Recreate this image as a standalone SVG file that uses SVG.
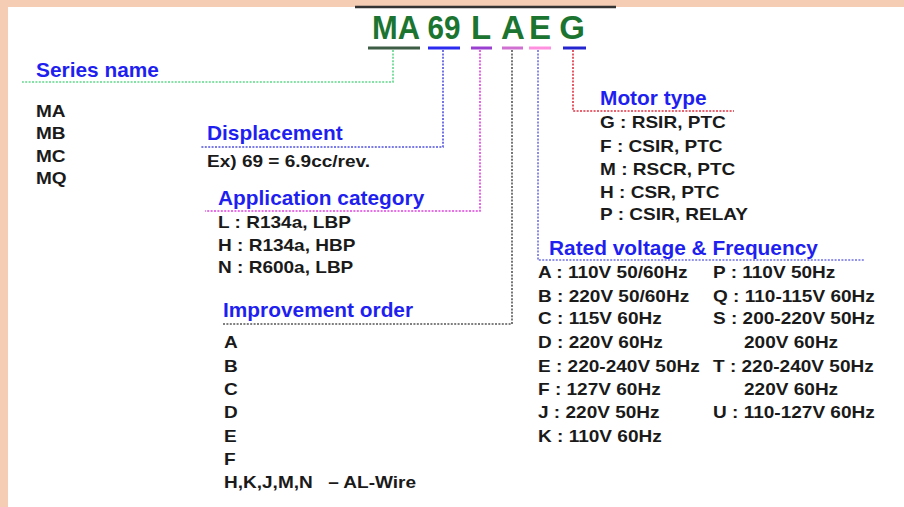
<svg xmlns="http://www.w3.org/2000/svg" width="904" height="507" viewBox="0 0 904 507">
<style>
text{font-family:"Liberation Sans",Arial,sans-serif;font-weight:bold}
.h{font-size:19.5px;fill:#1f1ff0}
.b{font-size:17px;fill:#1a1a1a}
.t{font-size:33px;fill:#1b7430;text-anchor:middle}
.c{fill:none;stroke-width:1.6;stroke-dasharray:2 1.4}
.u{stroke-width:3}
</style>
<rect x="0" y="0" width="904" height="507" fill="#f5cdb5"/>
<rect x="8" y="7" width="896" height="500" fill="#ffffff"/>
<line x1="355" y1="7" x2="616" y2="7" stroke="#333" stroke-width="2.5"/>

<g id="title">
<text class="t" x="396" y="39" textLength="48" lengthAdjust="spacingAndGlyphs">MA</text>
<text class="t" x="444" y="39" textLength="33" lengthAdjust="spacingAndGlyphs">69</text>
<text class="t" x="481" y="39">L</text>
<text class="t" x="513" y="39">A</text>
<text class="t" x="540" y="39">E</text>
<text class="t" x="572" y="39">G</text>
<line class="u" x1="368" y1="48" x2="420" y2="48" stroke="#3d5e45"/>
<line class="u" x1="428" y1="48" x2="460" y2="48" stroke="#2a2af0"/>
<line class="u" x1="471" y1="48" x2="492" y2="48" stroke="#9a40d0"/>
<line class="u" x1="502" y1="48" x2="523" y2="48" stroke="#d070d0"/>
<line class="u" x1="529" y1="48" x2="551" y2="48" stroke="#ff90e0"/>
<line class="u" x1="563" y1="48" x2="586" y2="48" stroke="#2525d0"/>
</g>

<g id="connectors">
<path class="c" d="M393 50V82H22" stroke="#5fd88a"/>
<path class="c" d="M443 50V147H200" stroke="#5050e0"/>
<path class="c" d="M480 50V211H205" stroke="#e040e0"/>
<path class="c" d="M512 50V324H222" stroke="#555"/>
<path class="c" d="M538 50V260H865" stroke="#7070e0"/>
<path class="c" d="M573 50V111H734" stroke="#e03040"/>
</g>

<g id="series">
<g transform="translate(36 0) scale(1.07 1)"><text class="h" x="0" y="77">Series name</text></g>
<g transform="translate(36 0) scale(1.12 1)">
<text class="b" x="0" y="117">MA</text>
<text class="b" x="0" y="139.5">MB</text>
<text class="b" x="0" y="162">MC</text>
<text class="b" x="0" y="184.5">MQ</text>
</g>
</g>

<g id="displacement">
<g transform="translate(207 0) scale(1.07 1)"><text class="h" x="0" y="140">Displacement</text></g>
<g transform="translate(207 0) scale(1.12 1)"><text class="b" x="0" y="167">Ex) 69 = 6.9cc/rev.</text></g>
</g>

<g id="application">
<g transform="translate(218 0) scale(1.07 1)"><text class="h" x="0" y="205">Application category</text></g>
<g transform="translate(218 0) scale(1.12 1)">
<text class="b" x="0" y="228">L : R134a, LBP</text>
<text class="b" x="0" y="251">H : R134a, HBP</text>
<text class="b" x="0" y="273">N : R600a, LBP</text>
</g>
</g>

<g id="improvement">
<g transform="translate(223 0) scale(1.07 1)"><text class="h" x="0" y="317">Improvement order</text></g>
<g transform="translate(224 0) scale(1.12 1)">
<text class="b" x="0" y="348">A</text>
<text class="b" x="0" y="372">B</text>
<text class="b" x="0" y="395">C</text>
<text class="b" x="0" y="418">D</text>
<text class="b" x="0" y="442">E</text>
<text class="b" x="0" y="465">F</text>
<text class="b" x="0" y="488">H,K,J,M,N<tspan x="93">– AL-Wire</tspan></text>
</g>
</g>

<g id="motor">
<g transform="translate(600 0) scale(1.07 1)"><text class="h" x="0" y="105">Motor type</text></g>
<g transform="translate(600 0) scale(1.12 1)">
<text class="b" x="0" y="128">G : RSIR, PTC</text>
<text class="b" x="0" y="152">F : CSIR, PTC</text>
<text class="b" x="0" y="175">M : RSCR, PTC</text>
<text class="b" x="0" y="198">H : CSR, PTC</text>
<text class="b" x="0" y="220">P : CSIR, RELAY</text>
</g>
</g>

<g id="voltage">
<g transform="translate(549 0) scale(1.07 1)"><text class="h" x="0" y="255">Rated voltage &amp; Frequency</text></g>
<g transform="translate(538 0) scale(1.12 1)">
<text class="b" x="0" y="278">A : 110V 50/60Hz</text>
<text class="b" x="0" y="302">B : 220V 50/60Hz</text>
<text class="b" x="0" y="324">C : 115V 60Hz</text>
<text class="b" x="0" y="348">D : 220V 60Hz</text>
<text class="b" x="0" y="372">E : 220-240V 50Hz</text>
<text class="b" x="0" y="395">F : 127V 60Hz</text>
<text class="b" x="0" y="418">J : 220V 50Hz</text>
<text class="b" x="0" y="442">K : 110V 60Hz</text>
</g>
<g transform="translate(713 0) scale(1.12 1)">
<text class="b" x="0" y="278">P : 110V 50Hz</text>
<text class="b" x="0" y="302">Q : 110-115V 60Hz</text>
<text class="b" x="0" y="324">S : 200-220V 50Hz</text>
<text class="b" x="27.7" y="348">200V 60Hz</text>
<text class="b" x="0" y="372">T : 220-240V 50Hz</text>
<text class="b" x="27.7" y="395">220V 60Hz</text>
<text class="b" x="0" y="418">U : 110-127V 60Hz</text>
</g>
</g>
</svg>
